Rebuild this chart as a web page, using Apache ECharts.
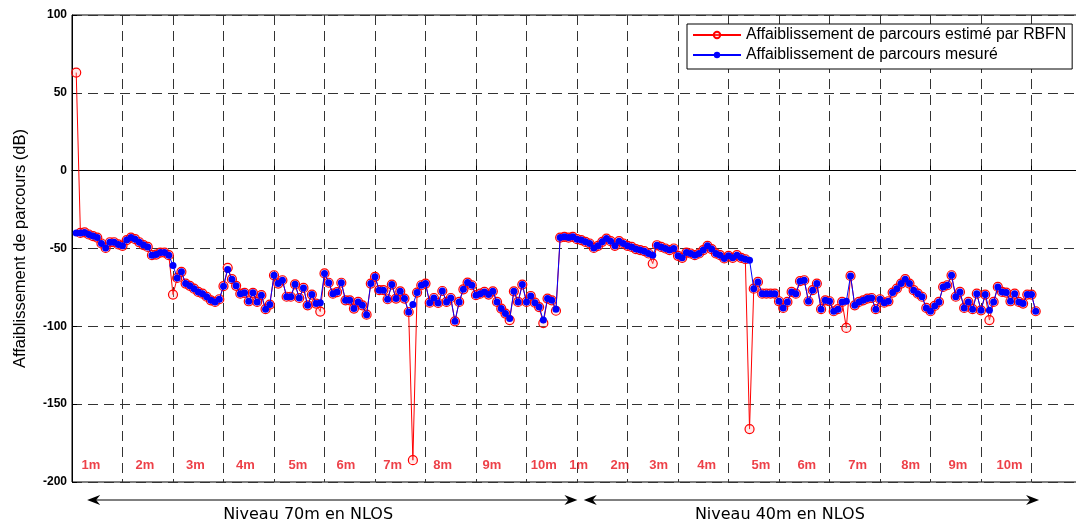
<!DOCTYPE html>
<html><head><meta charset="utf-8">
<script src="https://cdn.jsdelivr.net/npm/echarts@6/dist/echarts.min.js"></script>
<style>html,body{margin:0;padding:0;background:#fff}#c{width:1076px;height:525px}</style>
</head><body><div id="c"></div>
<script>
const estimatedName = 'Affaiblissement de parcours estimé par RBFN';
const measuredName = 'Affaiblissement de parcours mesuré';
const yAxisName = 'Affaiblissement de parcours (dB)';
const yTicks = [-200, -150, -100, -50, 0, 50, 100];

// Niveau 70m (points 1..115)
const measured70 = [
 -40, -40, -39.7, -41, -42, -43, -46.8, -49.6, -46, -46,
 -47.4, -48.3, -44.6, -43, -44, -46, -47.8, -49, -54.3, -53.9,
 -52.6, -52.6, -54.3, -61, -68.9, -65, -72.5, -74, -75.8, -77.9,
 -79, -81, -83.3, -84.3, -82.6, -74.2, -63.5, -69.7, -74, -79,
 -78.5, -83.9, -78.5, -84.3, -80, -89, -86, -67.2, -72.5, -70.4,
 -81, -81, -73, -81.8, -75.3, -86.5, -79.6, -85.4, -84.8, -66,
 -72, -79, -78, -72, -83.3, -83.3, -88.6, -84.3, -86.5, -92.5,
 -72.5, -68.2, -76.8, -76.8, -82.6, -73.2, -82.2, -77.5, -82.2, -90.8,
 -86, -78.3, -73.6, -72.5, -84.8, -81.8, -85, -77.3, -84.3, -81.8,
 -96.8, -84.3, -76.2, -71.9, -73.6, -80, -79, -77.9, -79.6, -77.5,
 -84.3, -88.6, -91.8, -95, -77.5, -84.3, -73.2, -84.3, -80.5, -84.8,
 -87.6, -96, -82.2, -83.3, -89
];
const estimated70 = [
 63, -40, -39.7, -41, -42, -43, -46.8, -49.6, -46, -46,
 -47.4, -48.3, -44.6, -43, -44, -46, -47.8, -49, -54.3, -53.9,
 -52.6, -52.6, -54.3, -79.6, -68.9, -65, -72.5, -74, -75.8, -77.9,
 -79, -81, -83.3, -84.3, -82.6, -74.2, -62.4, -69.7, -74, -79,
 -78.5, -83.9, -78.5, -84.3, -80, -89, -86, -67.2, -72.5, -70.4,
 -81, -81, -73, -81.8, -75.3, -86.5, -79.6, -85.4, -90.5, -66,
 -72, -79, -78, -72, -83.3, -83.3, -88.6, -84.3, -86.5, -92.5,
 -72.5, -68.2, -76.8, -76.8, -82.6, -73.2, -82.2, -77.5, -82.2, -90.8,
 -186, -78.3, -73.6, -72.5, -84.8, -81.8, -85, -77.3, -84.3, -81.8,
 -96.8, -84.3, -76.2, -71.9, -73.6, -80, -79, -77.9, -79.6, -77.5,
 -84.3, -88.6, -91.8, -96, -77.5, -84.3, -73.2, -84.3, -80.5, -84.8,
 -87.6, -98, -82.2, -83.3, -90
];
// Niveau 40m (points 116..229)
const measured40 = [
 -43, -42.5, -43, -42.5, -44, -44.6, -45.7, -46.8, -49.6, -48.3,
 -45.7, -43.6, -45.3, -48.3, -45.3, -46.8, -48.3, -49, -50.4, -51,
 -51.7, -53.2, -54.3, -47.9, -49, -50, -51, -50, -54.7, -56,
 -52.6, -53.2, -54.3, -53.2, -51, -48.3, -50.4, -53.2, -54.3, -56.4,
 -54.7, -56, -54.3, -56, -56.9, -57.5, -75.8, -71.5, -79, -79,
 -79, -79, -83.9, -88.2, -84.3, -77.9, -79, -71, -70.4, -83.9,
 -76.8, -72.5, -89, -83.3, -83.9, -90.3, -89, -84.3, -83.9, -67.6,
 -86.5, -84.3, -83.3, -82.2, -81.8, -89, -82.6, -84.8, -83.9, -78.3,
 -75.8, -72.5, -69.7, -72.5, -76.8, -79, -81, -88.2, -90.3, -86.9,
 -84.3, -74.7, -73.6, -67.2, -81, -77.9, -88.2, -84.3, -89, -79,
 -89.7, -79.6, -89.7, -84.3, -74.7, -77.9, -78.3, -83.9, -79, -84.3,
 -85.4, -79.6, -79.6, -90.3
];
const estimated40 = [
 -43, -42.5, -43, -42.5, -44, -44.6, -45.7, -46.8, -49.6, -48.3,
 -45.7, -43.6, -45.3, -48.3, -45.3, -46.8, -48.3, -49, -50.4, -51,
 -51.7, -53.2, -59.7, -47.9, -49, -50, -51, -50, -54.7, -56,
 -52.6, -53.2, -54.3, -53.2, -51, -48.3, -50.4, -53.2, -54.3, -56.4,
 -54.7, -56, -54.3, -56, -56.9, -166, -75.8, -71.5, -79, -79,
 -79, -79, -83.9, -88.2, -84.3, -77.9, -79, -71, -70.4, -83.9,
 -76.8, -72.5, -89, -83.3, -83.9, -90.3, -89, -84.3, -101, -67.6,
 -86.5, -84.3, -83.3, -82.2, -81.8, -89, -82.6, -84.8, -83.9, -78.3,
 -75.8, -72.5, -69.7, -72.5, -76.8, -79, -81, -88.2, -90.3, -86.9,
 -84.3, -74.7, -73.6, -67.2, -81, -77.9, -88.2, -84.3, -89, -79,
 -89.7, -79.6, -96, -84.3, -74.7, -77.9, -78.3, -83.9, -79, -84.3,
 -85.4, -79.6, -79.6, -90.3
];

const sectionLabels = ['1m','2m','3m','4m','5m','6m','7m','8m','9m','10m',
                       '1m','2m','3m','4m','5m','6m','7m','8m','9m','10m'];
const sectionAt = [4.5, 17.3, 29.3, 41.2, 53.7, 65.1, 76.2, 88.1, 99.8, 112.1,
                   120.4, 130.2, 139.4, 150.8, 163.7, 174.6, 186.7, 199.3, 210.5, 222.8];
const sectionLabelY = -189.5;
const levelLabels = ['Niveau 70m en NLOS', 'Niveau 40m en NLOS'];
const levelSpans = [[3.6, 120.1], [121.6, 229.8]];
const levelLabelAt = [56.1, 168.2];

const FONT = '"Liberation Sans", Arial, Helvetica, sans-serif';
const toPts = arr => arr.map((v, i) => [i + 1, v]);
const measured = toPts(measured70.concat(measured40));
const estimated = toPts(estimated70.concat(estimated40));

const chart = echarts.init(document.getElementById('c'), null, {renderer: 'canvas'});
const gridLine = {type: [10, 6], color: '#333', width: 1};
chart.setOption({
  animation: false,
  backgroundColor: '#fff',
  textStyle: {fontFamily: FONT},
  grid: {left: 72, width: 1014, top: 15, bottom: 43, outerBoundsMode: 'none', containLabel: false,
         show: true, borderColor: '#000', borderWidth: 1, backgroundColor: 'transparent'},
  xAxis: {
    type: 'value', min: 0, max: 240.95, interval: 12,
    axisLine: {show: true, lineStyle: {color: '#000', width: 1}},
    axisTick: {show: true, inside: true, length: 5, lineStyle: {color: '#000'}},
    axisLabel: {show: false},
    splitLine: {show: true, lineStyle: gridLine}
  },
  yAxis: {
    type: 'value', min: yTicks[0], max: yTicks[yTicks.length - 1], interval: yTicks[1] - yTicks[0],
    name: yAxisName, nameLocation: 'middle', nameGap: 43,
    nameTextStyle: {fontSize: 16.5, color: '#000', fontFamily: FONT},
    axisLine: {show: true, lineStyle: {color: '#000', width: 1}},
    axisTick: {show: true, inside: true, length: 5, lineStyle: {color: '#000'}},
    axisLabel: {color: '#000', fontSize: 12, fontWeight: 'bold', margin: 5, fontFamily: FONT},
    splitLine: {show: true, lineStyle: gridLine}
  },
  legend: {
    data: [estimatedName, measuredName],
    orient: 'vertical', left: 687, top: 24,
    itemWidth: 48, itemHeight: 8, itemGap: 4,
    padding: [3, 6, 6, 5],
    backgroundColor: '#fff', borderColor: '#000', borderWidth: 1, borderRadius: 0,
    textStyle: {fontSize: 15.8, color: '#000', fontFamily: FONT},
    selectedMode: false
  },
  series: [
    {
      name: estimatedName, type: 'line', data: estimated,
      symbol: 'circle', symbolSize: 9, showAllSymbol: true,
      lineStyle: {color: '#ff0000', width: 1},
      itemStyle: {color: 'rgba(255,170,170,0.25)', borderColor: '#ff0000', borderWidth: 1.2},
      emphasis: {disabled: true}, z: 2
    },
    {
      name: measuredName, type: 'line', data: measured,
      symbol: 'circle', symbolSize: 7, showAllSymbol: true,
      lineStyle: {color: '#0000ff', width: 1},
      itemStyle: {color: '#0000ff'},
      emphasis: {disabled: true}, z: 3
    },
    {
      type: 'scatter', silent: true, z: 5,
      data: sectionLabels.map((s, i) => ({name: s, value: [sectionAt[i], sectionLabelY]})),
      symbolSize: 1, itemStyle: {color: 'rgba(0,0,0,0)'},
      label: {show: true, position: 'inside', formatter: '{b}', color: '#e8101a', fontSize: 13, fontWeight: 'bold', fontFamily: FONT}
    }
  ]
});

// annotations below the axis: double arrows + level captions
const arrowY = 500, textY = 515;
const els = [];
levelSpans.forEach((span, k) => {
  const x0 = chart.convertToPixel({gridIndex: 0}, [span[0], 0])[0];
  const x1 = chart.convertToPixel({gridIndex: 0}, [span[1], 0])[0];
  const xt = chart.convertToPixel({gridIndex: 0}, [levelLabelAt[k], 0])[0];
  els.push({type: 'line', shape: {x1: x0 + 4, y1: arrowY, x2: x1 - 4, y2: arrowY}, style: {stroke: '#000', lineWidth: 1}, silent: true});
  els.push({type: 'polygon', shape: {points: [[x0, arrowY], [x0 + 13, arrowY - 5], [x0 + 9, arrowY], [x0 + 13, arrowY + 5]]}, style: {fill: '#000'}, silent: true});
  els.push({type: 'polygon', shape: {points: [[x1, arrowY], [x1 - 13, arrowY - 5], [x1 - 9, arrowY], [x1 - 13, arrowY + 5]]}, style: {fill: '#000'}, silent: true});
  els.push({type: 'text', style: {text: levelLabels[k], x: xt, y: textY, align: 'center', verticalAlign: 'middle', textAlign: 'center', textVerticalAlign: 'middle', fontSize: 16, fontFamily: '"DejaVu Sans", sans-serif', fill: '#000'}, silent: true});
});
chart.setOption({graphic: {elements: els}});
</script>
</body></html>
